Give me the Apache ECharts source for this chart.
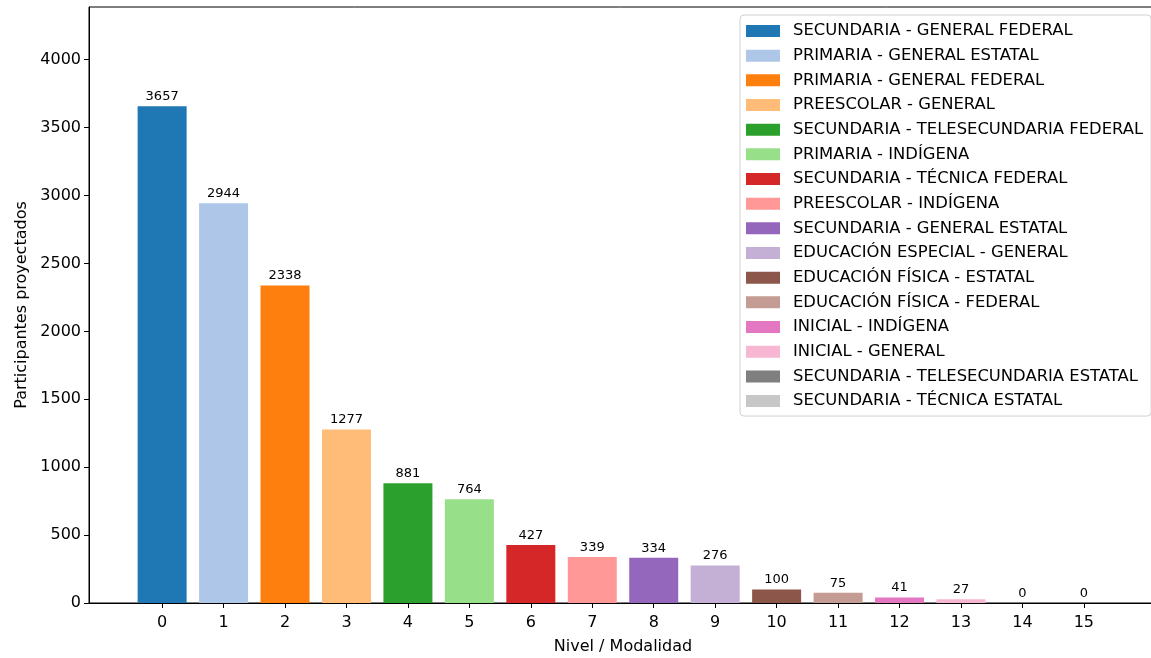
<!DOCTYPE html>
<html>
<head>
<meta charset="utf-8">
<script src="https://cdn.jsdelivr.net/npm/echarts@6/dist/echarts.min.js"></script>
<style>html,body{margin:0;padding:0;background:#fff}#c{width:1151px;height:658px}</style>
</head>
<body>
<div id="c"></div>
<script>
const categories = ['0','1','2','3','4','5','6','7','8','9','10','11','12','13','14','15'];
const names = [
  'SECUNDARIA - GENERAL FEDERAL',
  'PRIMARIA - GENERAL ESTATAL',
  'PRIMARIA - GENERAL FEDERAL',
  'PREESCOLAR - GENERAL',
  'SECUNDARIA - TELESECUNDARIA FEDERAL',
  'PRIMARIA - INDÍGENA',
  'SECUNDARIA - TÉCNICA FEDERAL',
  'PREESCOLAR - INDÍGENA',
  'SECUNDARIA - GENERAL ESTATAL',
  'EDUCACIÓN ESPECIAL - GENERAL',
  'EDUCACIÓN FÍSICA - ESTATAL',
  'EDUCACIÓN FÍSICA - FEDERAL',
  'INICIAL - INDÍGENA',
  'INICIAL - GENERAL',
  'SECUNDARIA - TELESECUNDARIA ESTATAL',
  'SECUNDARIA - TÉCNICA ESTATAL'
];
const values = [3657, 2944, 2338, 1277, 881, 764, 427, 339, 334, 276, 100, 75, 41, 27, 0, 0];
const yTicks = [0, 500, 1000, 1500, 2000, 2500, 3000, 3500, 4000];
const palette = ['#1f77b4','#aec7e8','#ff7f0e','#ffbb78','#2ca02c','#98df8a','#d62728','#ff9896',
                 '#9467bd','#c5b0d5','#8c564b','#c49c94','#e377c2','#f7b6d2','#7f7f7f','#c7c7c7'];

const font = 'DejaVu Sans';
const idx = categories.map((c, i) => i);
const series = names.map((n, i) => ({
  name: n,
  type: 'bar',
  barWidth: 49,
  barGap: '-100%',
  itemStyle: { color: palette[i] },
  label: { show: true, position: 'top', distance: 3, fontSize: 13, color: '#000', fontFamily: font },
  data: [[i, values[i]]]
}));

const chart = echarts.init(document.getElementById('c'), null, { renderer: 'canvas' });
chart.setOption({
  animation: false,
  backgroundColor: '#fff',
  textStyle: { fontFamily: font },
  grid: { left: 89, top: 7, width: 1068, height: 596, outerBoundsMode: 'none', containLabel: false,
          show: true, borderColor: '#000', borderWidth: 1, backgroundColor: 'transparent' },
  legend: {
    orient: 'vertical',
    left: 740, top: 15,
    padding: [8, 8, 7, 6],
    itemWidth: 34, itemHeight: 12,
    itemGap: 8.67,
    borderColor: '#d0d0d0', borderWidth: 1, borderRadius: 4,
    backgroundColor: 'rgba(255,255,255,0.8)',
    icon: 'rect',
    textStyle: { fontSize: 16.4, color: '#000', fontFamily: font, lineHeight: 16, padding: [0, 0, 0, 8] },
    data: names
  },
  xAxis: {
    type: 'value',
    min: -1.19, max: 16.19,
    name: 'Nivel / Modalidad',
    nameLocation: 'middle', nameGap: 36,
    nameTextStyle: { fontSize: 16, color: '#000', fontFamily: font },
    axisLine: { show: true, onZero: false, lineStyle: { color: '#000' } },
    axisTick: { show: true, customValues: idx, length: 5, lineStyle: { color: '#000' } },
    axisLabel: { customValues: idx, formatter: v => categories[Math.round(v)], fontSize: 16, color: '#000', margin: 12, fontFamily: font },
    splitLine: { show: false }
  },
  yAxis: {
    type: 'value',
    min: 0, max: 4388.4,
    name: 'Participantes proyectados',
    nameLocation: 'middle', nameGap: 58,
    nameTextStyle: { fontSize: 16, color: '#000', fontFamily: font },
    axisLine: { show: true, onZero: false, lineStyle: { color: '#000' } },
    axisTick: { show: true, customValues: yTicks, length: 5, lineStyle: { color: '#000' } },
    axisLabel: { customValues: yTicks, formatter: v => String(v), fontSize: 16, color: '#000', margin: 8, fontFamily: font },
    splitLine: { show: false }
  },
  series: series
});
</script>
</body>
</html>
